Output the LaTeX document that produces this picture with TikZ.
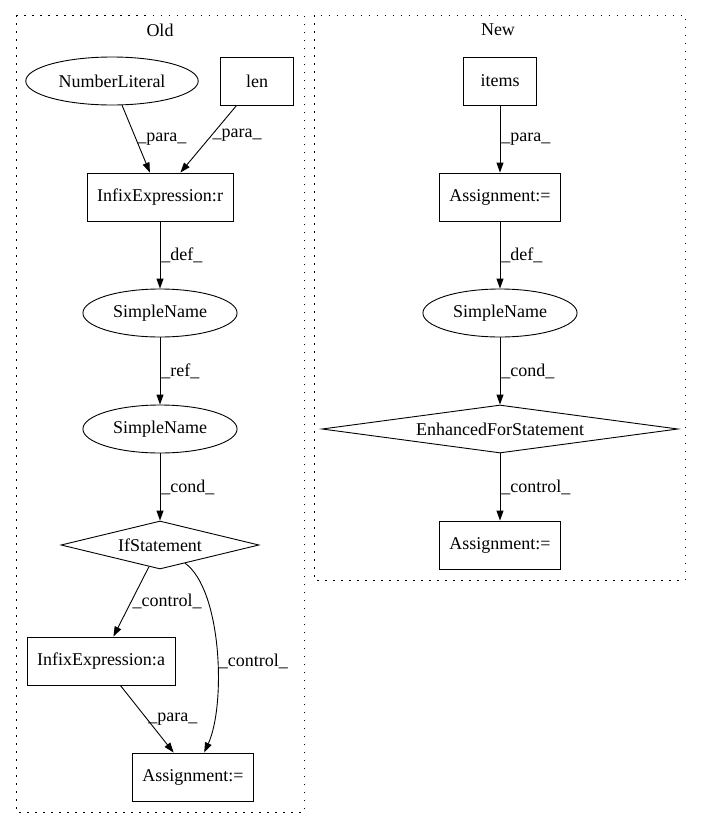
\documentclass[tikz,border=0pt]{standalone}
\usepackage{fontspec}
\setmainfont{Liberation Serif}
\usetikzlibrary{positioning, arrows.meta, shapes.geometric}

\tikzset{
	blk/.style={draw, rectangle, line width=0.9pt, inner xsep=10pt, minimum width=73pt, minimum height=48pt},
	ell/.style={draw, ellipse, line width=0.9pt, inner xsep=7.5pt, inner ysep=5pt, minimum width=154pt, minimum height=48pt},
	dia/.style={draw, diamond, line width=0.9pt, inner sep=1pt, aspect=4, minimum height=48pt},
	lbl/.style={anchor=west, inner sep=1pt},
	clus/.style={line width=0.9pt, dash pattern=on 1.5pt off 6.5pt}
}

\begin{document}
\begin{tikzpicture}[x=1pt, y=-1pt, >={Triangle[length=10pt, width=7pt]}, line width=0.9pt,
	every node/.append style={font=\fontsize{18}{20}\selectfont}, node distance=116pt, on grid]
	\useasboundingbox (0,0) rectangle (701,828);

	\draw[clus] (16,15) rectangle (304,812);
	\draw[clus] (314,15) rectangle (685,580);
	\node (old) at (160,30) {Old};
	\node (new) at (498,30) {New};

	\node[ell, minimum width=172pt] (numlit) at (112,81) {NumberLiteral};
		\node[blk, right=145pt of numlit] (len) {len};
	\node[blk, below right=116pt and 48pt of numlit] (infr) {InfixExpression:r};
	\node[ell, below=of infr] (sn1) {SimpleName};
	\node[ell, below=of sn1] (sn2) {SimpleName};
	\node[dia, minimum width=198pt, below=of sn2] (ifst) {IfStatement};
		\node[blk, below left=116pt and 59pt of ifst] (infa) {InfixExpression:a};
	\node[blk, below right=116pt and 92pt of infa] (asg1) {Assignment:=};

	\node[blk] (items) at (500,81) {items};
	\node[blk, below=of items] (asg2) {Assignment:=};
	\node[ell, below=of asg2] (sn3) {SimpleName};
	\node[dia, aspect=6.5, minimum width=356pt, below=of sn3] (efor) {EnhancedForStatement};
	\node[blk, below=of efor] (asg3) {Assignment:=};

	\draw [->]
		(numlit) edge node[lbl]{\_para\_} (infr)
		(len) edge node[lbl, pos=0.45]{\_para\_} (infr)
		(infr) edge node[lbl]{\_def\_} (sn1)
		(sn1) edge node[lbl]{\_ref\_} (sn2)
		(sn2) edge node[lbl]{\_cond\_} (ifst)
		(ifst) edge node[lbl]{\_control\_} (infa)
		(infa) edge node[lbl]{\_para\_} (asg1)

		(items) edge node[lbl]{\_para\_} (asg2)
		(asg2) edge node[lbl]{\_def\_} (sn3)
		(sn3) edge node[lbl]{\_cond\_} (efor)
		(efor) edge node[lbl]{\_control\_} (asg3)
		;
	\draw [->] (ifst) .. controls (222,590) and (226,705) .. node[lbl, pos=0.55]{\_control\_} (asg1);
\end{tikzpicture}
\end{document}
